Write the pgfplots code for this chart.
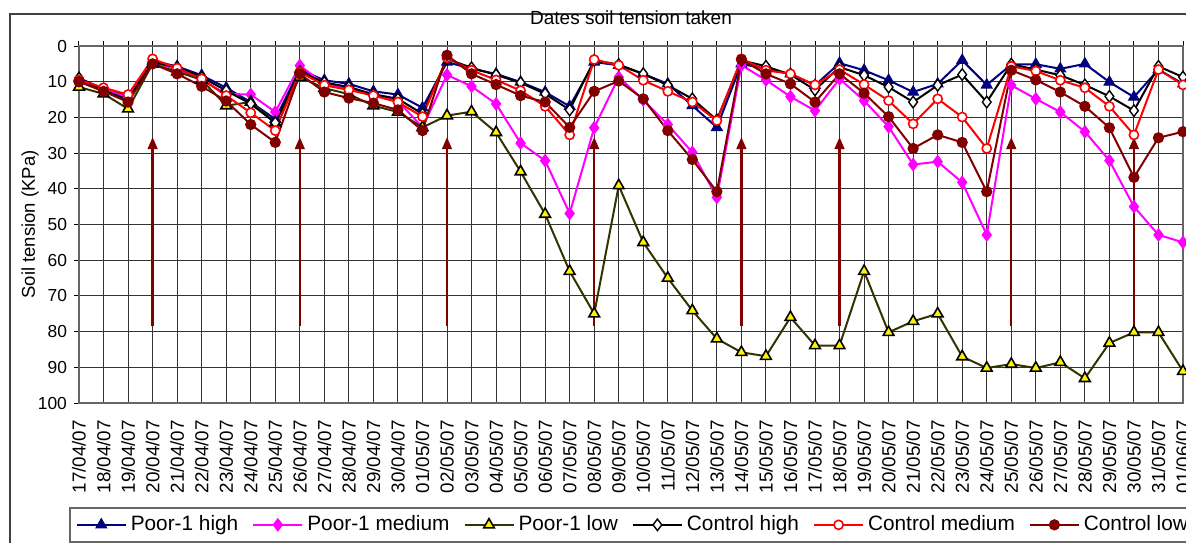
\documentclass[border=0pt]{standalone}
\usepackage{fontspec}
\setmainfont{Liberation Sans}
\usepackage{pgfplots}
\pgfplotsset{compat=1.18}
\usepackage{pgfplotstable}
\usetikzlibrary{arrows.meta}
\definecolor{navyc}{HTML}{000080}
\definecolor{magc}{HTML}{FF00FF}
\definecolor{olivec}{HTML}{333300}
\definecolor{darkredc}{HTML}{800000}

\pgfplotstableread{
x ph pm pl ch cm cl
0 9 10 11.5 9 9.5 10
1 12 12 13.4 12.5 11.7 12.7
2 14 14.5 17.6 15 13.6 15.7
3 4.2 4.5 5 4.5 3.6 5
4 5.7 6.5 7.2 6 6.2 7.8
5 8.2 9.5 9.5 8.7 9.2 11.3
6 11.7 13.4 16.7 12.5 13.9 15.4
7 15.7 13.6 15.7 16.2 18.7 22
8 20.5 18.5 21.5 21.5 23.7 27
9 6.6 5.5 8.7 7.2 7.3 7.8
10 9.6 10.6 11.8 10.2 11 12.9
11 10.6 12 13.5 11.5 12.3 14.6
12 12.7 13.7 16.7 13.5 13.9 16
13 13.6 15.4 18.5 14.8 15.7 17.9
14 17.3 22.8 22.8 19 19.8 23.7
15 4.5 8.1 19.5 3.6 3.3 2.6
16 6.4 11.3 18.4 6.1 6.8 7.8
17 7.8 16.2 24.2 8.1 9.5 10.8
18 10.1 27.2 35.2 10.3 12.5 13.9
19 12.9 32.1 47.1 13.4 16.9 15.7
20 16.9 46.9 63.1 17.9 24.9 22.8
21 4.5 22.9 75 4.0 3.8 12.7
22 5.4 8.7 39.1 5.2 5.4 9.8
23 7.8 15.1 55 7.8 9.6 14.8
24 10.6 22 65 11 12.7 23.7
25 16.7 29.8 74.1 14.8 15.7 31.8
26 22.8 42.4 82 20.7 20.9 40.8
27 5 5.4 85.8 4 3.6 3.8
28 6.4 9.5 86.9 5.7 6.8 7.8
29 7.8 14.2 76 8 7.8 10.6
30 11 18.1 83.9 12.3 10.9 15.7
31 4.8 9.2 83.9 5.9 6.6 7.8
32 6.8 15.3 63.1 8.2 10.8 13.2
33 9.6 22.6 80.2 11.5 15.3 19.8
34 12.9 33.2 77.1 15.7 21.8 28.7
35 10.6 32.4 75 11 14.8 24.9
36 4 38.2 87 8 19.9 27
37 10.9 52.9 90.2 15.7 28.7 40.8
38 5.2 11 89.1 5.1 5.7 6.8
39 5.1 14.8 90.2 6.6 7 9.5
40 6.4 18.5 88.6 8.2 9.6 12.9
41 5 24 93.1 10.9 11.7 16.9
42 10.1 32.1 83.2 14.1 16.9 22.9
43 14.3 45 80.2 18.1 24.9 36.8
44 6.6 52.9 80.2 5.7 6.6 25.7
45 10.6 55 91.1 8.7 10.9 24
}\data

\pgfplotstableread{
x y
3 78.5
9 78.5
15 78.5
21 78.5
27 78.5
31 78.5
38 78.5
43 78.5
}\arrows

\begin{document}
\begin{tikzpicture}
\path[use as bounding box] (-39.5pt,-69.5pt) rectangle (553.5pt,201.5pt);
\clip (-39.5pt,-69.5pt) rectangle (553.5pt,201.5pt);
\draw[black!75, line width=0.75pt] (-34.5pt,-100pt) -- (-34.5pt,194.5pt) -- (700pt,194.5pt);
\begin{axis}[
  at={(0pt,0pt)}, anchor=south west,
  scale only axis, width=552pt, height=178.5pt,
  xmin=0, xmax=45, ymin=0, ymax=100, y dir=reverse,
  xtick={0,...,45},
  xticklabels={17/04/07,18/04/07,19/04/07,20/04/07,21/04/07,22/04/07,23/04/07,24/04/07,25/04/07,26/04/07,27/04/07,28/04/07,29/04/07,30/04/07,01/05/07,02/05/07,03/05/07,04/05/07,05/05/07,06/05/07,07/05/07,08/05/07,09/05/07,10/05/07,11/05/07,12/05/07,13/05/07,14/05/07,15/05/07,16/05/07,17/05/07,18/05/07,19/05/07,20/05/07,21/05/07,22/05/07,23/05/07,24/05/07,25/05/07,26/05/07,27/05/07,28/05/07,29/05/07,30/05/07,31/05/07,01/06/07},
  ytick={0,10,...,100},
  grid=major, grid style={black!80, line width=0.5pt},
  xtick pos=upper, xticklabel pos=lower,
  ytick pos=left,
  tick align=outside, major tick length=2.5pt,
  tick style={black, line width=0.5pt},
  axis line style={black!60, line width=0.8pt},
  /pgf/number format/assume math mode=true,
  yticklabel style={font=\fontsize{8.7}{10}\selectfont},
  xticklabel style={font=\fontsize{9.4}{11}\selectfont, yshift=-2.5pt, rotate=90, anchor=east},
  title={Dates soil tension taken},
  title style={at={(0.5,1)}, anchor=base, yshift=5pt, font=\fontsize{9.5}{11}\selectfont},
  ylabel={Soil tension (KPa)},
  ylabel style={at={(axis description cs:-0.0444,0.5)}, anchor=center, font=\fontsize{9.25}{11}\selectfont},
  legend columns=6,
  legend style={at={(-0.00906,-0.2913)}, anchor=north west, draw=black!60, line width=0.8pt,
    font=\fontsize{10.4}{12}\selectfont,
    /tikz/every even column/.append style={column sep=5pt}},
  legend image code/.code={\draw[mark repeat=2,mark phase=2] plot coordinates {(0pt,0pt)(12.25pt,0pt)(24.5pt,0pt)};},
]
\addplot[navyc, line width=1pt, mark=triangle*, mark size=3pt, mark options={fill=navyc, draw=navyc, line width=0.6pt}] table[x=x,y=ph] {\data};
\addlegendentry{Poor-1 high}
\addplot[magc, line width=1pt, mark=diamond*, mark size=3pt, mark options={fill=magc, draw=magc, line width=0.6pt}] table[x=x,y=pm] {\data};
\addlegendentry{Poor-1 medium}
\addplot[olivec, line width=1pt, mark=triangle*, mark size=3.1pt, mark options={fill=yellow, draw=black, line width=0.8pt}] table[x=x,y=pl] {\data};
\addlegendentry{Poor-1 low}
\addplot[black, line width=1pt, mark=diamond*, mark size=2.9pt, mark options={fill=white, draw=black, line width=0.7pt}] table[x=x,y=ch] {\data};
\addlegendentry{Control high}
\addplot[red, line width=1pt, mark=*, mark size=2.3pt, mark options={fill=white, draw=red, line width=0.8pt}] table[x=x,y=cm] {\data};
\addlegendentry{Control medium}
\addplot[darkredc, line width=1pt, mark=*, mark size=2.3pt, mark options={fill=darkredc, draw=darkredc}] table[x=x,y=cl] {\data};
\addlegendentry{Control low}
\addplot[forget plot, darkredc, line width=1.2pt, -{Triangle[length=6pt,width=4.8pt]},
  quiver={u=0, v=-53}] table[x=x,y=y] {\arrows};
\end{axis}
\end{tikzpicture}
\end{document}
